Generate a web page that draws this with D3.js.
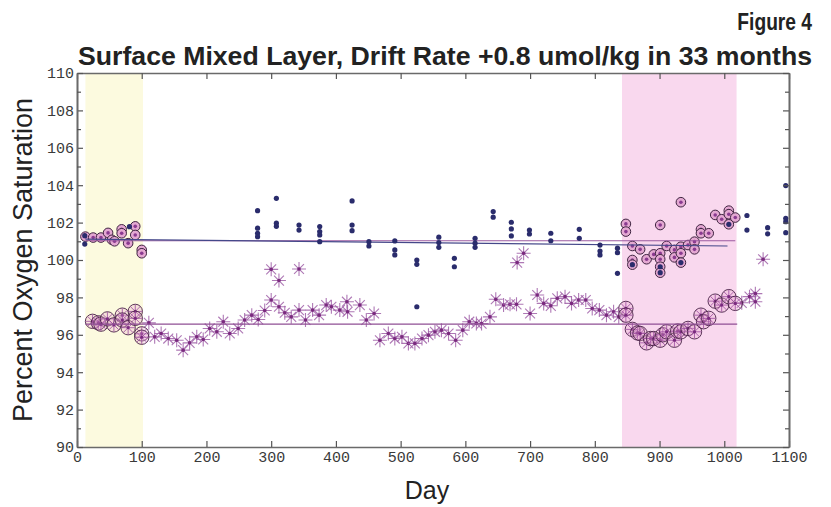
<!DOCTYPE html>
<html>
<head>
<meta charset="utf-8">
<script src="https://cdn.jsdelivr.net/npm/d3@7"></script>
<style>
  body { margin: 0; background: #fff; }
  svg { display: block; }
</style>
</head>
<body>
<script>
var width = 831,
    height = 507;

// shaded periods (day ranges)
var yellowBand = [13, 102];
var pinkBand = [842, 1019];

// x / y ticks
var xTicks = [0, 100, 200, 300, 400, 500, 600, 700, 800, 900, 1000, 1100];
var yTicks = [90, 92, 94, 96, 98, 100, 102, 104, 106, 108, 110];
var yMinor = [91, 93, 95, 97, 99, 101, 103, 105, 107, 109];

// upper series, plain dots [day, % sat]
var navyDots = [
  [12, 101.3], [12, 100.85], [81, 101.78],
  [279, 102.64], [279, 101.7], [279, 101.43], [279, 101.25],
  [308, 103.3], [308, 101.97], [308, 101.8],
  [343, 101.87], [343, 101.6],
  [375, 101.79], [375, 101.52], [375, 101.34], [375, 100.98],
  [425, 103.16], [425, 101.87], [425, 101.57],
  [451, 100.98], [451, 100.75],
  [491, 101.02], [491, 100.54], [491, 100.27],
  [525, 100.0], [525, 99.77], [525, 97.5],
  [559, 101.22], [559, 100.93], [559, 100.68],
  [583, 100.09], [583, 99.64],
  [615, 101.16], [615, 100.9], [615, 100.68],
  [643, 102.59], [643, 102.29],
  [671, 102.02], [671, 101.66], [671, 101.29],
  [699, 101.6], [699, 101.39],
  [732, 101.43], [732, 101.03],
  [776, 101.64], [776, 101.16],
  [808, 100.8], [808, 100.48], [808, 100.27],
  [835, 100.63], [835, 100.39], [835, 99.29],
  [858, 99.75], [901, 99.32], [901, 99.64], [933, 99.86], [1007, 101.91],
  [1035, 102.38], [1035, 101.6],
  [1067, 101.73], [1067, 101.4],
  [1095, 103.98], [1095, 102.23], [1095, 102.05], [1095, 101.46]
];

// upper series, ringed points inside shaded periods
var upperRings = [
  [13, 101.25], [25, 101.2], [37, 101.2], [48, 101.45], [54, 101.08], [58, 101.0],
  [69, 101.64], [69, 101.43], [79, 100.9], [90, 101.8], [90, 101.34],
  [100, 100.54], [100, 100.36],
  [848, 101.93], [848, 101.52], [858, 100.75], [858, 100.0], [858, 99.75],
  [870, 100.57], [880, 100.04], [891, 100.3], [901, 101.87], [901, 100.36],
  [901, 100.04], [901, 99.64], [901, 99.32], [911, 100.75], [923, 100.54],
  [923, 100.14], [933, 103.09], [933, 100.71], [933, 100.36], [933, 99.86],
  [944, 100.8], [954, 100.98], [954, 100.57], [964, 101.64], [964, 101.43],
  [976, 101.43], [986, 102.41], [996, 102.18], [1007, 102.64], [1007, 102.45],
  [1007, 101.91], [1017, 102.27]
];

// lower series, asterisks
var lowerStars = [
  [111, 96.64], [120, 95.89], [130, 96.07], [141, 95.8], [154, 95.71], [164, 95.18],
  [174, 95.57], [185, 95.89], [195, 95.75], [205, 96.34], [216, 96.16], [226, 96.7],
  [236, 96.07], [249, 96.34], [259, 96.79], [270, 97.05], [280, 96.82], [290, 97.3],
  [300, 97.86], [300, 99.5], [312, 98.9], [343, 99.52], [312, 97.5], [321, 97.18],
  [331, 96.96], [343, 97.32], [353, 96.79], [364, 97.32], [374, 97.05], [385, 97.59],
  [393, 97.5], [406, 97.32], [417, 97.77], [418, 97.23], [437, 97.59], [447, 96.79],
  [459, 97.14], [468, 95.71], [481, 96.07], [491, 95.8], [502, 95.89], [512, 95.54],
  [522, 95.54], [533, 95.8], [543, 95.98], [553, 96.16], [563, 96.25], [574, 96.07],
  [585, 95.71], [596, 96.25], [606, 96.7], [617, 96.61], [625, 96.6], [638, 96.96],
  [647, 97.9], [659, 97.59], [669, 97.63], [679, 97.63], [680, 99.86], [690, 100.36],
  [700, 97.14], [711, 98.13], [721, 97.68], [732, 97.55], [742, 97.95], [754, 98.04],
  [764, 97.68], [775, 97.86], [786, 97.86], [796, 97.41], [807, 97.32], [818, 97.05],
  [829, 97.23], [837, 96.96],
  [1027, 97.71], [1039, 98.04], [1048, 98.2], [1048, 97.77], [1060, 100.04]
];

// lower series, ringed points inside shaded periods
var lowerRings = [
  [24, 96.72], [33, 96.64], [37, 96.57], [47, 96.85], [57, 96.53], [70, 97.05],
  [70, 96.79], [79, 96.38], [90, 97.25], [90, 96.88], [100, 96.05], [100, 95.87],
  [848, 97.41], [848, 97.05], [858, 96.29], [866, 96.1], [870, 96.07], [880, 95.57],
  [886, 95.8], [891, 95.8], [901, 95.71], [905, 96.0], [911, 96.16], [923, 95.71],
  [928, 96.2], [933, 96.16], [944, 96.34], [954, 96.16], [964, 97.05], [968, 96.7],
  [976, 96.88], [986, 97.8], [996, 97.59], [1007, 98.04], [1017, 97.68]
];

// trend lines [day, value] end points
var trendUpperNavy = [[13, 101.12], [1005, 100.75]];
var trendUpperPurple = [[13, 101.03], [1017, 101.03]];
var trendLower = [[13, 96.57], [1020, 96.57]];

var margin = {top: 73, right: 42, bottom: 60, left: 77};
var w = width - margin.left - margin.right,
    h = height - margin.top - margin.bottom;

var x = d3.scaleLinear().domain([0, 1100]).range([0, w]);
var y = d3.scaleLinear().domain([90, 110]).range([h, 0]);

var svg = d3.select("body").append("svg")
    .attr("width", width)
    .attr("height", height);

var narrow = "'Liberation Sans Narrow', 'Arial Narrow', 'Liberation Sans', sans-serif";

// condensed look by squeezing horizontally
svg.append("text")
    .attr("transform", "translate(812,30) scale(0.8,1)")
    .attr("text-anchor", "end")
    .style("font-family", narrow)
    .style("font-weight", "bold").style("font-size", "24px").style("fill", "#222")
    .text("Figure 4");

svg.append("text")
    .attr("x", 78).attr("y", 65)
    .attr("textLength", 734).attr("lengthAdjust", "spacingAndGlyphs")
    .style("font-family", narrow)
    .style("font-weight", "bold").style("font-size", "26px").style("fill", "#222")
    .text("Surface Mixed Layer, Drift Rate +0.8 umol/kg in 33 months");

var g = svg.append("g")
    .attr("transform", "translate(" + margin.left + "," + margin.top + ")");

g.append("rect")
    .attr("x", x(yellowBand[0])).attr("y", 0)
    .attr("width", x(yellowBand[1]) - x(yellowBand[0])).attr("height", h)
    .attr("fill", "#fcfadf");
g.append("rect")
    .attr("x", x(pinkBand[0])).attr("y", 0)
    .attr("width", x(pinkBand[1]) - x(pinkBand[0])).attr("height", h)
    .attr("fill", "#f9d8ee");

function spokes(sel, r) {
  // 8-armed asterisk path
  var d = "";
  for (var i = 0; i < 4; i++) {
    var a = i * Math.PI / 4;
    var dx = r * Math.cos(a), dy = r * Math.sin(a);
    d += "M" + (-dx) + "," + (-dy) + "L" + dx + "," + dy;
  }
  sel.append("path").attr("d", d);
}

// asterisks
var stars = g.append("g").selectAll("g")
    .data(lowerStars)
    .enter().append("g")
      .attr("transform", function(d) { return "translate(" + x(d[0]) + "," + y(d[1]) + ")"; });
stars.each(function() { spokes(d3.select(this), 7); });
stars.select("path")
    .attr("stroke", "#a060a8").attr("stroke-width", 1.1).attr("stroke-opacity", 0.85).attr("fill", "none");
stars.append("circle").attr("r", 1.8).attr("fill", "#7a2a7e");

// lower ringed points
var lr = g.append("g").selectAll("g")
    .data(lowerRings)
    .enter().append("g")
      .attr("transform", function(d) { return "translate(" + x(d[0]) + "," + y(d[1]) + ")"; });
lr.append("circle").attr("r", 7.2)
    .attr("fill", "rgba(232,170,205,0.3)").attr("stroke", "#4a2448").attr("stroke-width", 0.9);
lr.each(function() { spokes(d3.select(this), 6.8); });
lr.select("path").attr("stroke", "#9a4aa0").attr("stroke-width", 0.8).attr("fill", "none");
lr.append("circle").attr("r", 1.6).attr("fill", "#7a2a7e");

// upper ringed points
var ur = g.append("g").selectAll("g")
    .data(upperRings)
    .enter().append("g")
      .attr("transform", function(d) { return "translate(" + x(d[0]) + "," + y(d[1]) + ")"; });
ur.append("circle").attr("r", 4.8)
    .attr("fill", "#e4a8d2").attr("stroke", "#3e2440").attr("stroke-width", 1);
ur.append("circle").attr("r", 1.8).attr("fill", "#8a3a90");

// trend lines
var line = d3.line()
    .x(function(d) { return x(d[0]); })
    .y(function(d) { return y(d[1]); });
g.append("path").datum(trendUpperPurple)
    .attr("d", line).attr("stroke", "#9b5aa0").attr("stroke-width", 1.2).attr("fill", "none");
g.append("path").datum(trendUpperNavy)
    .attr("d", line).attr("stroke", "#45488a").attr("stroke-width", 1.2).attr("fill", "none");
g.append("path").datum(trendLower)
    .attr("d", line).attr("stroke", "#8f4f94").attr("stroke-width", 1.2).attr("fill", "none");

// navy dots
g.append("g").selectAll("circle")
    .data(navyDots)
    .enter().append("circle")
      .attr("cx", function(d) { return x(d[0]); })
      .attr("cy", function(d) { return y(d[1]); })
      .attr("r", 2.6)
      .attr("fill", "#2a2c6c");

// axes, ticks pointing inward
var tickFont = "'Liberation Mono', 'DejaVu Sans Mono', monospace";
var fmt = d3.format("d");

var xAxis = g.append("g")
    .attr("transform", "translate(0," + h + ")")
    .call(d3.axisBottom(x).tickValues(xTicks).tickFormat(fmt).tickSizeInner(-6).tickSizeOuter(0).tickPadding(4));
var xTop = g.append("g")
    .call(d3.axisTop(x).tickValues(xTicks).tickSizeInner(-6).tickSizeOuter(0).tickFormat(""));
var yAxis = g.append("g")
    .call(d3.axisLeft(y).tickValues(yTicks).tickFormat(fmt).tickSizeInner(-6).tickSizeOuter(0).tickPadding(3));
var yAxisMinor = g.append("g")
    .call(d3.axisLeft(y).tickValues(yMinor).tickSizeInner(-4).tickSizeOuter(0).tickFormat(""));
var yRight = g.append("g")
    .attr("transform", "translate(" + w + ",0)")
    .call(d3.axisRight(y).tickValues(yTicks).tickSizeInner(-6).tickSizeOuter(0).tickFormat(""));
var yRightMinor = g.append("g")
    .attr("transform", "translate(" + w + ",0)")
    .call(d3.axisRight(y).tickValues(yMinor).tickSizeInner(-4).tickSizeOuter(0).tickFormat(""));

[xAxis, xTop, yAxis, yAxisMinor, yRight, yRightMinor].forEach(function(a) {
  a.select(".domain").attr("stroke", "#6a6a6a").attr("stroke-width", 1.6);
  a.selectAll(".tick line").attr("stroke", "#555").attr("stroke-width", 1.2);
  a.selectAll(".tick text")
      .style("font-family", tickFont).style("font-size", "15px").style("fill", "#3a3a3a");
});

svg.append("text")
    .attr("transform", "translate(32," + (margin.top + h / 2) + ") rotate(-90)")
    .attr("text-anchor", "middle")
    .style("font-family", "'Liberation Sans', Arial, sans-serif")
    .style("font-size", "27px").style("fill", "#222")
    .text("Percent Oxygen Saturation");

svg.append("text")
    .attr("x", 427).attr("y", 499)
    .attr("text-anchor", "middle")
    .style("font-family", "'Liberation Sans', Arial, sans-serif")
    .style("font-size", "25px").style("fill", "#222")
    .text("Day");
</script>
</body>
</html>
